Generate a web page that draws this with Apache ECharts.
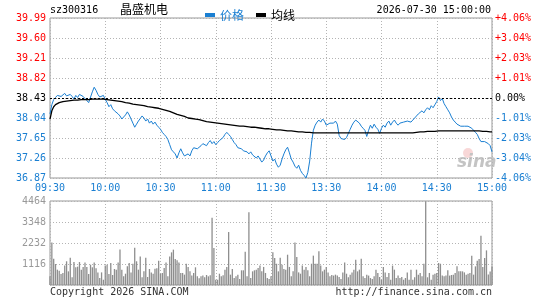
<!DOCTYPE html>
<html>
<head>
<meta charset="utf-8">
<script src="https://cdn.jsdelivr.net/npm/echarts@6/dist/echarts.min.js"></script>
<style>
  html, body { margin: 0; padding: 0; background: #fff; }
  #chart { width: 545px; height: 300px; }
</style>
</head>
<body>
<div id="chart"></div>
<script>
const stockCode = 'sz300316'
const stockName = '晶盛机电'
const quoteTime = '2026-07-30 15:00:00'
const prevClose = 38.43

// 分时价格，每分钟一个点，09:30-11:30 + 13:01-15:00
const priceList = [
  38.12, 38.30, 38.40, 38.44, 38.48, 38.50, 38.46, 38.49, 38.52, 38.47,
  38.44, 38.50, 38.46, 38.41, 38.48, 38.44, 38.50, 38.52, 38.46, 38.43,
  38.38, 38.34, 38.37, 38.55, 38.64, 38.58, 38.50, 38.45, 38.43, 38.48,
  38.40, 38.34, 38.26, 38.30, 38.22, 38.18, 38.21, 38.12, 38.08, 38.02,
  38.06, 38.10, 38.16, 38.10, 38.02, 37.94, 37.86, 37.92, 37.98, 38.03,
  38.08, 38.04, 37.98, 38.02, 37.94, 37.98, 37.92, 37.96, 37.90, 37.86,
  37.82, 37.76, 37.72, 37.68, 37.62, 37.52, 37.42, 37.38, 37.34, 37.26,
  37.36, 37.44, 37.36, 37.30, 37.28, 37.34, 37.30, 37.40, 37.46, 37.48,
  37.44, 37.46, 37.50, 37.54, 37.56, 37.50, 37.56, 37.60, 37.54, 37.58,
  37.52, 37.56, 37.60, 37.62, 37.66, 37.72, 37.76, 37.72, 37.68, 37.62,
  37.56, 37.52, 37.46, 37.48, 37.44, 37.40, 37.42, 37.38, 37.34, 37.38,
  37.32, 37.30, 37.26, 37.30, 37.24, 37.18, 37.22, 37.30, 37.36, 37.40,
  37.30, 37.20, 37.24, 37.14, 37.08, 37.12, 37.24, 37.34, 37.42, 37.47,
  37.36, 37.24, 37.18, 37.10, 37.06, 37.12, 37.02, 36.96, 36.92, 36.87,
  36.98, 37.20, 37.55, 37.80, 37.90, 37.96, 38.00, 37.96, 38.02, 37.98,
  37.90, 37.88, 37.94, 37.96, 37.94, 37.98, 37.92, 37.70, 37.64, 37.66,
  37.62, 37.66, 37.74, 37.82, 37.90, 37.96, 38.00, 37.98, 37.94, 37.88,
  37.84, 37.80, 37.68, 37.80, 37.90, 37.84, 37.92, 37.86, 37.82, 37.74,
  37.84, 37.90, 37.86, 37.94, 37.98, 37.90, 37.96, 38.00, 37.94, 37.90,
  37.94, 37.92, 37.96, 37.94, 37.98, 38.00, 37.96, 38.00, 38.04, 38.06,
  38.12, 38.10, 38.18, 38.14, 38.20, 38.24, 38.20, 38.28, 38.24, 38.30,
  38.36, 38.45, 38.38, 38.42, 38.32, 38.26, 38.20, 38.14, 38.06, 38.00,
  37.96, 37.92, 37.90, 37.88, 37.90, 37.88, 37.86, 37.88, 37.86, 37.84,
  37.80, 37.76, 37.72, 37.64, 37.58, 37.56, 37.58, 37.56, 37.54, 37.50,
  37.38
]

// 均价线
const avgList = [
  38.02, 38.18, 38.26, 38.30, 38.33, 38.34, 38.35, 38.36, 38.37, 38.37,
  38.38, 38.38, 38.38, 38.39, 38.39, 38.39, 38.40, 38.40, 38.40, 38.40,
  38.40, 38.40, 38.40, 38.41, 38.41, 38.41, 38.41, 38.41, 38.41, 38.41,
  38.41, 38.40, 38.40, 38.39, 38.39, 38.38, 38.38, 38.37, 38.36, 38.36,
  38.35, 38.34, 38.34, 38.33, 38.32, 38.31, 38.31, 38.30, 38.29, 38.29,
  38.28, 38.28, 38.27, 38.26, 38.26, 38.25, 38.25, 38.24, 38.24, 38.23,
  38.22, 38.21, 38.20, 38.19, 38.18, 38.17, 38.16, 38.14, 38.13, 38.11,
  38.10, 38.09, 38.08, 38.07, 38.05, 38.04, 38.04, 38.03, 38.03, 38.02,
  38.02, 38.01, 38.00, 37.99, 37.98, 37.97, 37.97, 37.96, 37.96, 37.95,
  37.95, 37.94, 37.94, 37.93, 37.93, 37.92, 37.92, 37.91, 37.91, 37.90,
  37.90, 37.89, 37.89, 37.88, 37.88, 37.88, 37.87, 37.87, 37.87, 37.86,
  37.86, 37.86, 37.85, 37.85, 37.84, 37.84, 37.84, 37.83, 37.83, 37.83,
  37.82, 37.82, 37.82, 37.81, 37.81, 37.81, 37.80, 37.80, 37.80, 37.79,
  37.79, 37.79, 37.78, 37.78, 37.78, 37.77, 37.77, 37.77, 37.76, 37.76,
  37.76, 37.76, 37.76, 37.75, 37.75, 37.75, 37.75, 37.75, 37.75, 37.75,
  37.75, 37.75, 37.75, 37.75, 37.75, 37.75, 37.75, 37.75, 37.75, 37.75,
  37.75, 37.75, 37.75, 37.75, 37.75, 37.75, 37.75, 37.75, 37.75, 37.75,
  37.75, 37.75, 37.75, 37.75, 37.75, 37.75, 37.75, 37.75, 37.75, 37.75,
  37.75, 37.75, 37.75, 37.75, 37.75, 37.75, 37.75, 37.75, 37.75, 37.75,
  37.75, 37.75, 37.75, 37.75, 37.75, 37.75, 37.75, 37.75, 37.76, 37.76,
  37.77, 37.77, 37.77, 37.77, 37.77, 37.78, 37.78, 37.78, 37.78, 37.78,
  37.78, 37.79, 37.79, 37.79, 37.79, 37.79, 37.79, 37.79, 37.79, 37.79,
  37.79, 37.79, 37.79, 37.79, 37.79, 37.79, 37.79, 37.79, 37.79, 37.79,
  37.79, 37.79, 37.79, 37.79, 37.78, 37.78, 37.78, 37.78, 37.77, 37.77,
  37.77
]

// 成交量（手）
const volumeList = [
  460, 2260, 1400, 1116, 815, 760, 585, 640, 1030, 1260,
  725, 1450, 410, 1220, 940, 975, 1220, 815, 960, 1200,
  960, 585, 1080, 940, 1200, 885, 670, 370, 670, 280,
  1030, 1080, 585, 1170, 530, 850, 815, 1200, 1880, 815,
  460, 600, 990, 1170, 670, 1130, 1980, 1260, 815, 1520,
  410, 725, 1450, 425, 850, 670, 600, 870, 885, 1290,
  600, 640, 905, 1200, 460, 1520, 1735, 1880, 1380, 1310,
  1200, 640, 640, 550, 1130, 960, 725, 500, 640, 940,
  460, 355, 460, 500, 410, 530, 460, 515, 3580, 1965,
  280, 280, 600, 460, 515, 815, 960, 2815, 550, 850,
  370, 460, 550, 320, 780, 780, 1770, 460, 3860, 370,
  725, 780, 815, 905, 1030, 725, 960, 640, 370, 320,
  460, 1735, 1435, 1130, 725, 1450, 1080, 850, 815, 1610,
  960, 460, 725, 2265, 1490, 670, 600, 1030, 815, 960,
  780, 460, 1130, 1560, 1130, 1130, 1790, 1030, 725, 815,
  960, 670, 460, 530, 500, 550, 500, 425, 320, 670,
  1200, 600, 410, 550, 670, 815, 1345, 725, 815, 1400,
  460, 370, 550, 500, 370, 320, 460, 815, 640, 425,
  280, 960, 670, 425, 640, 280, 1030, 815, 370, 500,
  370, 425, 280, 370, 670, 280, 815, 280, 410, 815,
  550, 640, 460, 1130, 4445, 410, 640, 280, 550, 600,
  640, 1170, 1130, 500, 460, 500, 780, 500, 530, 550,
  640, 990, 725, 725, 725, 670, 550, 600, 640, 1560,
  550, 990, 1290, 1380, 2620, 960, 1435, 1840, 560, 720,
  980
]

const priceTicks = ['36.87', '37.26', '37.65', '38.04', '38.43', '38.82', '39.21', '39.60', '39.99']
const pctTicks = ['-4.06%', '-3.04%', '-2.03%', '-1.01%', '0.00%', '+1.01%', '+2.03%', '+3.04%', '+4.06%']
const volTicks = ['', '1116', '2232', '3348', '4464']

// 时间轴：上午到11:30，下午从13:01起
const timeList = []
for (let m = 9 * 60 + 30; m <= 11 * 60 + 30; m++) timeList.push(m)
for (let m = 13 * 60 + 1; m <= 15 * 60; m++) timeList.push(m)
const categories = timeList.map(m => String(Math.floor(m / 60)).padStart(2, '0') + ':' + String(m % 60).padStart(2, '0'))

const RED = '#ff0000'
const BLUE = '#1a7fd2'
const GRAY = '#999999'
const MONO = 'DejaVu Sans Mono'
const CJK = 'Noto Sans CJK SC'

const chart = echarts.init(document.getElementById('chart'), null, { renderer: 'canvas' })

const dotted = { color: '#b4b4b4', type: [1, 2], width: 1 }

chart.setOption({
  animation: false,
  backgroundColor: '#fff',
  textStyle: { fontFamily: MONO },
  legend: {
    left: 200,
    top: 4,
    itemWidth: 10,
    itemHeight: 4,
    itemGap: 12,
    icon: 'rect',
    selectedMode: false,
    textStyle: { fontFamily: CJK, fontSize: 12 },
    data: [
      { name: '价格', textStyle: { color: BLUE } },
      { name: '均线', textStyle: { color: '#000' } }
    ]
  },
  graphic: [
    { type: 'text', left: 50, top: 5, style: { text: stockCode, font: '10px "DejaVu Sans Mono"', fill: '#000' } },
    { type: 'text', left: 120, top: 3, style: { text: stockName, font: '12px "Noto Sans CJK SC"', fill: '#000' } },
    { type: 'text', right: 54, top: 5, style: { text: quoteTime, font: '10px "DejaVu Sans Mono"', fill: '#000' } },
    { type: 'text', left: 50, top: 287, style: { text: 'Copyright 2026 SINA.COM', font: '10px "DejaVu Sans Mono"', fill: '#333' } },
    { type: 'text', right: 53, top: 287, style: { text: 'http://finance.sina.com.cn', font: '10px "DejaVu Sans Mono"', fill: '#333' } },
    { type: 'circle', shape: { cx: 468, cy: 153, r: 5 }, style: { fill: 'rgba(230,110,110,0.28)' }, z: 0 },
    { type: 'text', left: 457, top: 154, style: { text: 'sina', font: 'italic bold 17px "DejaVu Sans"', fill: '#c4c4c4' }, z: 0 }
  ],
  grid: [
    { left: 50, right: 53, top: 18, height: 160, show: true, borderColor: GRAY, borderWidth: 1, backgroundColor: 'transparent' },
    { left: 50, right: 53, top: 201, height: 84, show: true, borderColor: GRAY, borderWidth: 1, backgroundColor: 'transparent' }
  ],
  xAxis: [
    {
      type: 'category', gridIndex: 0, data: categories, boundaryGap: false,
      axisLine: { show: false }, axisTick: { show: false },
      axisLabel: { interval: 29, color: BLUE, fontFamily: MONO, fontSize: 10, margin: 5 },
      splitLine: { show: true, interval: 29, lineStyle: dotted }
    },
    {
      type: 'category', gridIndex: 1, data: categories, boundaryGap: false,
      axisLine: { show: false }, axisTick: { show: false }, axisLabel: { show: false },
      splitLine: { show: true, interval: 29, lineStyle: dotted }
    }
  ],
  yAxis: [
    {
      type: 'value', gridIndex: 0, min: 36.87, max: 39.99, interval: 0.39,
      axisLine: { show: false }, axisTick: { show: false },
      axisLabel: {
        margin: 4,
        formatter: (v, i) => {
          const key = i < 4 ? 'dn' : (i === 4 ? 'eq' : 'up')
          return '{' + key + '|' + priceTicks[i] + '}'
        },
        rich: {
          up: { color: RED, fontFamily: MONO, fontSize: 10 },
          dn: { color: BLUE, fontFamily: MONO, fontSize: 10 },
          eq: { color: '#000', fontFamily: MONO, fontSize: 10 }
        }
      },
      splitLine: { show: true, lineStyle: dotted }
    },
    {
      type: 'value', gridIndex: 0, position: 'right', min: 36.87, max: 39.99, interval: 0.39,
      axisLine: { show: false }, axisTick: { show: false },
      axisLabel: {
        margin: 3,
        formatter: (v, i) => {
          const key = i < 4 ? 'dn' : (i === 4 ? 'eq' : 'up')
          return '{' + key + '|' + pctTicks[i] + '}'
        },
        rich: {
          up: { color: RED, fontFamily: MONO, fontSize: 10 },
          dn: { color: BLUE, fontFamily: MONO, fontSize: 10 },
          eq: { color: '#000', fontFamily: MONO, fontSize: 10 }
        }
      },
      splitLine: { show: false }
    },
    {
      type: 'value', gridIndex: 1, min: 0, max: 4464, interval: 1116,
      axisLine: { show: false }, axisTick: { show: false },
      axisLabel: { margin: 4, color: GRAY, fontFamily: MONO, fontSize: 10, formatter: (v, i) => volTicks[i] },
      splitLine: { show: true, lineStyle: dotted }
    }
  ],
  series: [
    {
      name: '价格', type: 'line', xAxisIndex: 0, yAxisIndex: 0,
      data: priceList, showSymbol: false, symbol: 'none',
      itemStyle: { color: BLUE },
      lineStyle: { color: BLUE, width: 1 },
      z: 3,
      markLine: {
        silent: true, symbol: 'none', label: { show: false },
        lineStyle: { color: '#000', type: [2, 2], width: 1 },
        data: [{ yAxis: prevClose }]
      }
    },
    {
      name: '均线', type: 'line', xAxisIndex: 0, yAxisIndex: 0,
      data: avgList, showSymbol: false, symbol: 'none',
      itemStyle: { color: '#000' },
      lineStyle: { color: '#000', width: 1.3 },
      z: 4
    },
    {
      name: '成交量', type: 'bar', xAxisIndex: 1, yAxisIndex: 2,
      data: volumeList, barWidth: 1.3,
      itemStyle: { color: '#8e8e8e' }
    }
  ]
})
</script>
</body>
</html>
